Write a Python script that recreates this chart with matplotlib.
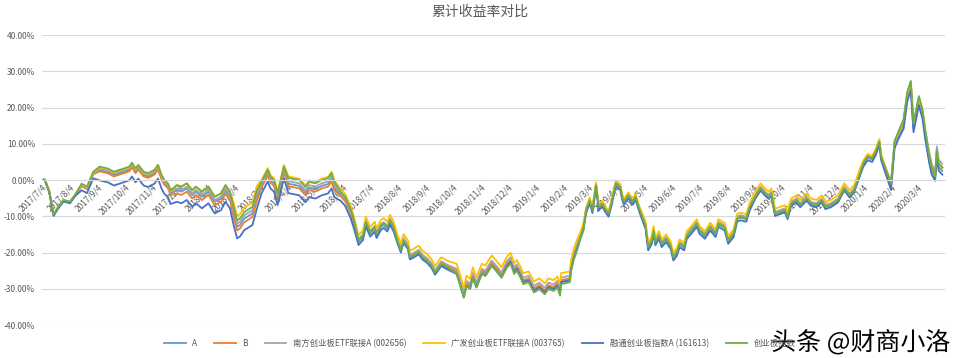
import matplotlib
matplotlib.use("Agg")
import matplotlib.pyplot as plt
import matplotlib.patheffects as pe
from matplotlib.ticker import FuncFormatter
import pandas as pd

plt.rcParams['font.family'] = ['Noto Sans CJK SC', 'DejaVu Sans']

# sample dates
dates = [
    "2017-07-04", "2017-07-07", "2017-07-12", "2017-07-17", "2017-07-21", "2017-07-28", "2017-08-04", "2017-08-10",
    "2017-08-17", "2017-08-23", "2017-08-30",
    "2017-09-06", "2017-09-15", "2017-09-22", "2017-09-28", "2017-10-09", "2017-10-12", "2017-10-16", "2017-10-19",
    "2017-10-25", "2017-10-30", "2017-11-06", "2017-11-10", "2017-11-14", "2017-11-17", "2017-11-21", "2017-11-24",
    "2017-12-01", "2017-12-06", "2017-12-12", "2017-12-18", "2017-12-22", "2017-12-29", "2018-01-05", "2018-01-12",
    "2018-01-19", "2018-01-24", "2018-01-29",
    "2018-02-02", "2018-02-06", "2018-02-09", "2018-02-14", "2018-02-23", "2018-02-28",
    "2018-03-05", "2018-03-12", "2018-03-15", "2018-03-19", "2018-03-23", "2018-03-27", "2018-03-30",
    "2018-04-04", "2018-04-10", "2018-04-16", "2018-04-23", "2018-04-27", "2018-05-04", "2018-05-11", "2018-05-18",
    "2018-05-22", "2018-05-25",
    "2018-06-01", "2018-06-06", "2018-06-12", "2018-06-15",
    "2018-06-21", "2018-06-26", "2018-06-29", "2018-07-04", "2018-07-09", "2018-07-11", "2018-07-16", "2018-07-19",
    "2018-07-23", "2018-07-26", "2018-07-30",
    "2018-08-03", "2018-08-07", "2018-08-10", "2018-08-15", "2018-08-17", "2018-08-21", "2018-08-27", "2018-08-31",
    "2018-09-05", "2018-09-10", "2018-09-14", "2018-09-18", "2018-09-21", "2018-09-28",
    "2018-10-08", "2018-10-11", "2018-10-16", "2018-10-19", "2018-10-23", "2018-10-26", "2018-10-30", "2018-11-05",
    "2018-11-09", "2018-11-16", "2018-11-21", "2018-11-27",
    "2018-12-03", "2018-12-07", "2018-12-11", "2018-12-14", "2018-12-18", "2018-12-21", "2018-12-27", "2019-01-02",
    "2019-01-08", "2019-01-14", "2019-01-18", "2019-01-24", "2019-01-28", "2019-01-31", "2019-02-01", "2019-02-11",
    "2019-02-12", "2019-02-15", "2019-02-19",
    "2019-02-22", "2019-02-26",
    "2019-03-01", "2019-03-05", "2019-03-08", "2019-03-12", "2019-03-15", "2019-03-19", "2019-03-22", "2019-03-26",
    "2019-03-29", "2019-04-03", "2019-04-08", "2019-04-10", "2019-04-12", "2019-04-17", "2019-04-22", "2019-04-25",
    "2019-04-29",
    "2019-05-06", "2019-05-09", "2019-05-13", "2019-05-15", "2019-05-17", "2019-05-21", "2019-05-24", "2019-05-29",
    "2019-06-03", "2019-06-06", "2019-06-10", "2019-06-13", "2019-06-18", "2019-06-21", "2019-06-26", "2019-07-02",
    "2019-07-05", "2019-07-11", "2019-07-17", "2019-07-23", "2019-07-26", "2019-08-02", "2019-08-06", "2019-08-12",
    "2019-08-16", "2019-08-20", "2019-08-26", "2019-08-30",
    "2019-09-05", "2019-09-11", "2019-09-16", "2019-09-20", "2019-09-23", "2019-09-27", "2019-10-08", "2019-10-11",
    "2019-10-15", "2019-10-21", "2019-10-25", "2019-11-01", "2019-11-06", "2019-11-12", "2019-11-18", "2019-11-22",
    "2019-11-28", "2019-12-06", "2019-12-13", "2019-12-19", "2019-12-24", "2019-12-30",
    "2020-01-03", "2020-01-08", "2020-01-13", "2020-01-17", "2020-01-21", "2020-01-23",
    "2020-02-03", "2020-02-07", "2020-02-11",
    "2020-02-17", "2020-02-21", "2020-02-25", "2020-02-28", "2020-03-05", "2020-03-09", "2020-03-12",
    "2020-03-16", "2020-03-19", "2020-03-23", "2020-03-25", "2020-03-27", "2020-03-31",
]

# cumulative returns in %
fund_a = [
    0, 0.2, -3.1, -9.6, -7.9, -5.6, -6.1, -4.1,
    -1.5, -2.3, 1.8,
    2.8, 2.3, 1.4, 1.9, 2.8, 3.9, 2.3, 3.3, 1.4, 1.0, 1.9, 3.3, 0.5, -0.9, -1.8, -3.7,
    -2.8, -3.2, -2.3, -4.2, -3.2, -4.6, -3.2, -6.0, -5.1, -2.8, -4.6,
    -9.2, -12.9, -12.4, -10.6, -9.2, -4.6,
    -1.5, 1.8, -0.1, -1.0, -4.7, -0.5, 2.7,
    -1.0, -1.3, -1.6, -3.5, -2.1, -2.5, -1.6, -1.1, 0.3, -2.1,
    -4.2, -5.6, -8.9, -11.2,
    -17.1, -15.7, -12.0, -14.8, -13.4, -15.2, -12.9, -12.4, -13.4, -11.5, -13.4,
    -16.9, -19.6, -16.9, -18.7, -21.5, -21.0, -20.1, -21.5, -22.4, -23.8, -25.7, -24.3, -23.3, -24.3,
    -25.4, -27.7, -31.9, -28.7, -29.5, -26.4, -29.1, -25.4, -25.9, -23.1, -24.5, -26.4,
    -23.3, -22.3, -25.1, -24.2, -26.1, -27.9, -27.4, -30.2, -29.3, -30.7, -29.3, -29.8, -28.8, -31.1, -27.9, -27.4,
    -24.7, -21.4, -18.6,
    -16.2, -13.4,
    -8.3, -5.6, -8.3, -1.4, -7.5, -6.5, -7.9, -9.3, -6.5, -0.9, -1.9, -4.6, -6.0, -4.2, -6.0, -4.6, -7.9,
    -12.7, -18.7, -16.9, -14.1, -17.3, -15.5, -17.8, -16.4, -18.3, -21.5, -20.1, -17.8, -18.7, -15.5, -14.1, -12.2,
    -14.1, -15.5, -13.2, -15.0, -12.2, -13.2, -16.9, -15.0, -10.7, -10.4, -10.8, -7.6,
    -4.7, -2.4, -3.8, -4.7, -3.8, -9.4, -8.4, -10.3, -6.6, -5.7, -7.0, -5.2, -6.6, -7.0, -5.7, -7.5,
    -7.0, -5.7, -2.4, -4.3, -2.9, 1.3,
    4.3, 6.2, 5.7, 7.6, 10.3, 6.2,
    -1.7, 9.8, 12.2,
    15.2, 22.6, 25.8, 14.2, 21.6, 17.9, 12.4,
    6.4, 2.7, 0.4, 7.3, 3.6, 2.5,
]

fund_b = [
    0, 0.1, -3.2, -9.7, -8.0, -5.7, -6.2, -4.2,
    -1.7, -2.5, 1.6,
    2.4, 1.9, 1.0, 1.5, 2.4, 3.5, 1.9, 2.9, 1.0, 0.6, 1.5, 2.9, 0.1, -1.3, -2.2, -4.1,
    -3.7, -4.1, -3.2, -5.1, -4.1, -5.5, -4.1, -6.9, -6.0, -3.7, -5.5,
    -10.2, -13.9, -13.4, -11.6, -10.2, -5.6,
    -2.1, 1.2, -0.7, -1.6, -5.3, -1.1, 2.1,
    -1.7, -2.0, -2.3, -4.2, -2.8, -3.2, -2.3, -1.8, -0.4, -2.8,
    -4.4, -5.8, -9.1, -11.4,
    -16.7, -15.3, -11.6, -14.4, -13.0, -14.8, -12.5, -12.0, -13.0, -11.1, -13.0,
    -16.4, -19.1, -16.4, -18.2, -21.0, -20.5, -19.6, -21.0, -21.9, -23.3, -25.2, -23.8, -22.8, -23.8,
    -25.0, -27.3, -31.5, -28.3, -29.1, -26.0, -28.7, -25.0, -25.5, -22.7, -24.1, -26.0,
    -23.0, -22.0, -24.8, -23.9, -25.8, -27.6, -27.1, -29.9, -29.0, -30.4, -29.0, -29.5, -28.5, -30.8, -27.6, -27.1,
    -24.4, -21.1, -18.3,
    -15.9, -13.1,
    -8.1, -5.4, -8.1, -1.2, -7.3, -6.3, -7.7, -9.1, -6.3, -0.7, -1.7, -4.4, -5.8, -4.0, -5.8, -4.4, -7.7,
    -12.2, -18.2, -16.4, -13.6, -16.8, -15.0, -17.3, -15.9, -17.8, -21.0, -19.6, -17.3, -18.2, -15.0, -13.6, -11.7,
    -13.6, -15.0, -12.7, -14.5, -11.7, -12.7, -16.4, -14.5, -10.2, -9.9, -10.3, -7.1,
    -4.3, -2.0, -3.4, -4.3, -3.4, -9.0, -8.0, -9.9, -6.2, -5.3, -6.6, -4.8, -6.2, -6.6, -5.3, -7.1,
    -6.6, -5.3, -2.0, -3.9, -2.5, 1.7,
    4.6, 6.5, 6.0, 7.9, 10.6, 6.5,
    -1.2, 10.3, 12.7,
    15.9, 23.3, 26.5, 14.9, 22.3, 18.6, 13.1,
    7.4, 3.7, 0.9, 8.3, 4.6, 3.5,
]

nanfang_etf = [
    0, 0.2, -3.0, -9.5, -7.8, -5.5, -6.0, -4.0,
    -1.4, -2.2, 1.9,
    3.2, 2.7, 1.8, 2.3, 3.2, 4.3, 2.7, 3.7, 1.8, 1.4, 2.3, 3.7, 0.9, -0.5, -1.4, -3.3,
    -2.3, -2.7, -1.8, -3.7, -2.7, -4.1, -2.7, -5.5, -4.6, -2.3, -4.1,
    -8.3, -12.0, -11.5, -9.7, -8.3, -3.7,
    -1.1, 2.2, 0.3, -0.6, -4.3, -0.1, 3.1,
    -0.3, -0.6, -0.9, -2.8, -1.4, -1.8, -0.9, -0.4, 1.0, -1.4,
    -3.6, -5.0, -8.3, -10.6,
    -16.3, -14.9, -11.2, -14.0, -12.6, -14.4, -12.1, -11.6, -12.6, -10.7, -12.6,
    -16.0, -18.7, -16.0, -17.8, -20.6, -20.1, -19.2, -20.6, -21.5, -22.9, -24.8, -23.4, -22.4, -23.4,
    -24.5, -26.8, -31.0, -27.8, -28.6, -25.5, -28.2, -24.5, -25.0, -22.2, -23.6, -25.5,
    -22.3, -21.3, -24.1, -23.2, -25.1, -26.9, -26.4, -29.2, -28.3, -29.7, -28.3, -28.8, -27.8, -30.1, -26.9, -26.4,
    -23.7, -20.4, -17.6,
    -15.5, -12.7,
    -8.0, -5.3, -8.0, -1.1, -7.2, -6.2, -7.6, -9.0, -6.2, -0.6, -1.6, -4.3, -5.7, -3.9, -5.7, -4.3, -7.6,
    -12.0, -18.0, -16.2, -13.4, -16.6, -14.8, -17.1, -15.7, -17.6, -20.8, -19.4, -17.1, -18.0, -14.8, -13.4, -11.5,
    -13.4, -14.8, -12.5, -14.3, -11.5, -12.5, -16.2, -14.3, -10.0, -9.7, -10.1, -6.9,
    -4.1, -1.8, -3.2, -4.1, -3.2, -8.8, -7.8, -9.7, -6.0, -5.1, -6.4, -4.6, -6.0, -6.4, -5.1, -6.9,
    -6.4, -5.1, -1.8, -3.7, -2.3, 1.9,
    4.9, 6.8, 6.3, 8.2, 10.9, 6.8,
    -0.6, 10.9, 13.3,
    16.7, 24.1, 27.3, 15.7, 23.1, 19.4, 13.9,
    8.4, 4.7, 1.9, 9.3, 5.6, 4.5,
]

guangfa_etf = [
    0, 0.2, -3.0, -9.5, -7.8, -5.5, -6.0, -4.0,
    -1.2, -2.0, 2.1,
    3.5, 3.0, 2.1, 2.6, 3.5, 4.6, 3.0, 4.0, 2.1, 1.7, 2.6, 4.0, 1.2, -0.2, -1.1, -3.0,
    -1.4, -1.8, -0.9, -2.8, -1.8, -3.2, -1.8, -4.6, -3.7, -1.4, -3.2,
    -6.2, -9.9, -9.4, -7.6, -6.2, -1.6,
    0.0, 3.3, 1.4, 0.5, -3.2, 1.0, 4.2,
    1.0, 0.7, 0.4, -1.5, -0.1, -0.5, 0.4, 0.9, 2.3, -0.1,
    -2.4, -3.8, -7.1, -9.4,
    -15.2, -13.8, -10.1, -12.9, -11.5, -13.3, -11.0, -10.5, -11.5, -9.6, -11.5,
    -14.9, -17.6, -14.9, -16.7, -19.5, -19.0, -18.1, -19.5, -20.4, -21.8, -23.7, -22.3, -21.3, -22.3,
    -23.1, -25.4, -29.6, -26.4, -27.2, -24.1, -26.8, -23.1, -23.6, -20.8, -22.2, -24.1,
    -21.1, -20.1, -22.9, -22.0, -23.9, -25.7, -25.2, -28.0, -27.1, -28.5, -27.1, -27.6, -26.6, -28.9, -25.7, -25.2,
    -22.5, -19.2, -16.4,
    -14.7, -11.9,
    -7.5, -4.8, -7.5, -0.6, -6.7, -5.7, -7.1, -8.5, -5.7, -0.1, -1.1, -3.8, -5.2, -3.4, -5.2, -3.8, -7.1,
    -11.3, -17.3, -15.5, -12.7, -15.9, -14.1, -16.4, -15.0, -16.9, -20.1, -18.7, -16.4, -17.3, -14.1, -12.7, -10.8,
    -12.7, -14.1, -11.8, -13.6, -10.8, -11.8, -15.5, -13.6, -9.3, -9.0, -9.4, -6.2,
    -3.2, -0.9, -2.3, -3.2, -2.3, -7.9, -6.9, -8.8, -5.1, -4.2, -5.5, -3.7, -5.1, -5.5, -4.2, -6.0,
    -5.5, -4.2, -0.9, -2.8, -1.4, 2.8,
    5.3, 7.2, 6.7, 8.6, 11.3, 7.2,
    -1.2, 10.3, 12.7,
    16.2, 23.6, 26.8, 15.2, 22.6, 18.9, 13.4,
    7.1, 3.4, 0.6, 8.0, 4.3, 3.2,
]

rongtong_index = [
    0, 0.0, -3.4, -9.9, -8.2, -5.9, -6.4, -4.4,
    -2.8, -3.6, 0.5,
    -0.1, -0.6, -1.5, -1.0, -0.1, 1.0, -0.6, 0.4, -1.5, -1.9, -1.0, 0.4, -2.4, -3.8, -4.7, -6.6,
    -6.0, -6.4, -5.5, -7.4, -6.4, -7.8, -6.4, -9.2, -8.3, -6.0, -7.8,
    -12.4, -16.1, -15.6, -13.8, -12.4, -7.8,
    -3.7, -0.4, -2.3, -3.2, -6.9, -2.7, 0.5,
    -3.6, -3.9, -4.2, -6.1, -4.7, -5.1, -4.2, -3.7, -2.3, -4.7,
    -5.7, -7.1, -10.4, -12.7,
    -17.9, -16.5, -12.8, -15.6, -14.2, -16.0, -13.7, -13.2, -14.2, -12.3, -14.2,
    -17.3, -20.0, -17.3, -19.1, -21.9, -21.4, -20.5, -21.9, -22.8, -24.2, -26.1, -24.7, -23.7, -24.7,
    -25.9, -28.2, -32.4, -29.2, -30.0, -26.9, -29.6, -25.9, -26.4, -23.6, -25.0, -26.9,
    -23.6, -22.6, -25.4, -24.5, -26.4, -28.2, -27.7, -30.5, -29.6, -31.0, -29.6, -30.1, -29.1, -31.4, -28.2, -27.7,
    -25.0, -21.7, -18.9,
    -16.5, -13.7,
    -9.1, -6.4, -9.1, -2.2, -8.3, -7.3, -8.7, -10.1, -7.3, -1.7, -2.7, -5.4, -6.8, -5.0, -6.8, -5.4, -8.7,
    -13.4, -19.4, -17.6, -14.8, -18.0, -16.2, -18.5, -17.1, -19.0, -22.2, -20.8, -18.5, -19.4, -16.2, -14.8, -12.9,
    -14.8, -16.2, -13.9, -15.7, -12.9, -13.9, -17.6, -15.7, -11.4, -11.1, -11.5, -8.3,
    -5.2, -2.9, -4.3, -5.2, -4.3, -9.9, -8.9, -10.8, -7.1, -6.2, -7.5, -5.7, -7.1, -7.5, -6.2, -8.0,
    -7.5, -6.2, -2.9, -4.8, -3.4, 0.8,
    3.6, 5.5, 5.0, 6.9, 9.6, 5.5,
    -2.7, 8.8, 11.2,
    14.2, 21.6, 24.8, 13.2, 20.6, 16.9, 11.4,
    5.4, 1.7, -0.2, 6.3, 2.6, 1.5,
]

chinext_index = [
    0, 0.2, -3.0, -9.5, -7.8, -5.5, -6.0, -4.0,
    -1.0, -1.8, 2.3,
    3.7, 3.2, 2.3, 2.8, 3.7, 4.8, 3.2, 4.2, 2.3, 1.9, 2.8, 4.2, 1.4, 0.0, -0.9, -2.8,
    -1.4, -1.8, -0.9, -2.8, -1.8, -3.2, -1.8, -4.6, -3.7, -1.4, -3.2,
    -7.4, -11.1, -10.6, -8.8, -7.4, -2.8,
    -0.5, 2.8, 0.9, 0.0, -3.7, 0.5, 3.7,
    0.6, 0.3, 0.0, -1.9, -0.5, -0.9, 0.0, 0.5, 1.9, -0.5,
    -3.2, -4.6, -7.9, -10.2,
    -16.7, -15.3, -11.6, -14.4, -13.0, -14.8, -12.5, -12.0, -13.0, -11.1, -13.0,
    -16.7, -19.4, -16.7, -18.5, -21.3, -20.8, -19.9, -21.3, -22.2, -23.6, -25.5, -24.1, -23.1, -24.1,
    -25.9, -28.2, -32.4, -29.2, -30.0, -26.9, -29.6, -25.9, -26.4, -23.6, -25.0, -26.9,
    -24.1, -23.1, -25.9, -25.0, -26.9, -28.7, -28.2, -31.0, -30.1, -31.5, -30.1, -30.6, -29.6, -31.9, -28.7, -28.2,
    -25.5, -22.2, -19.4,
    -16.7, -13.9,
    -8.3, -5.6, -8.3, -1.4, -7.5, -6.5, -7.9, -9.3, -6.5, -0.9, -1.9, -4.6, -6.0, -4.2, -6.0, -4.6, -7.9,
    -12.5, -18.5, -16.7, -13.9, -17.1, -15.3, -17.6, -16.2, -18.1, -21.3, -19.9, -17.6, -18.5, -15.3, -13.9, -12.0,
    -13.9, -15.3, -13.0, -14.8, -12.0, -13.0, -16.7, -14.8, -10.5, -10.2, -10.6, -7.4,
    -4.6, -2.3, -3.7, -4.6, -3.7, -9.3, -8.3, -10.2, -6.5, -5.6, -6.9, -5.1, -6.5, -6.9, -5.6, -7.4,
    -6.9, -5.6, -2.3, -4.2, -2.8, 1.4,
    4.6, 6.5, 6.0, 7.9, 10.6, 6.5,
    -0.9, 10.6, 13.0,
    16.7, 24.1, 27.3, 15.7, 23.1, 19.4, 13.9,
    7.4, 3.7, 0.9, 8.3, 4.6, 3.5,
]

series_names = ["A", "B", "南方创业板ETF联接A (002656)", "广发创业板ETF联接A (003765)",
                "融通创业板指数A (161613)", "创业板指数"]
series_colors = ["#5B9BD5", "#ED7D31", "#A5A5A5", "#FFC000", "#4472C4", "#70AD47"]
series_values = [fund_a, fund_b, nanfang_etf, guangfa_etf, rongtong_index, chinext_index]

tick_dates = pd.date_range("2017-07-04", "2020-03-04", freq=pd.DateOffset(months=1))
tick_labels = [f"{d.year}/{d.month}/{d.day}" for d in tick_dates]

x = pd.to_datetime(dates)

fig = plt.figure(figsize=(9.6, 3.58), dpi=100)
ax = fig.add_axes([0.04375, 0.092, 0.9406, 0.810])

for name, color, vals in zip(series_names, series_colors, series_values):
    ax.plot(x, vals, color=color, lw=1.3, label=name)

# axis line sits at 0, like the Excel chart (set before the ticks, it resets them)
for s in ["top", "right", "left"]:
    ax.spines[s].set_visible(False)
ax.spines["bottom"].set_position(("data", 0))
ax.spines["bottom"].set_color("#D9D9D9")

ax.set_ylim(-40, 40)
ax.set_yticks(range(-40, 41, 10))
ax.yaxis.set_major_formatter(FuncFormatter(lambda v, p: f"{v:.2f}%"))
ax.set_xlim(pd.Timestamp("2017-07-04"), pd.Timestamp("2020-04-03"))
ax.set_xticks(tick_dates)
ax.set_xticklabels(tick_labels)

ax.grid(axis="y", color="#D9D9D9", lw=0.8)
ax.set_axisbelow(True)
ax.tick_params(axis="both", length=0, colors="#595959")
ax.tick_params(axis="y", pad=5, labelsize=6)
ax.tick_params(axis="x", pad=2, labelsize=6, labelrotation=45)
for lbl in ax.get_xticklabels():
    lbl.set_ha("right")
    lbl.set_rotation_mode("anchor")

fig.text(0.5, 1 - 12 / 358, "累计收益率对比", ha="center", va="center", fontsize=10, color="#595959")

fig.legend(loc="center", bbox_to_anchor=(0.5, 0.04), ncol=6, frameon=False, fontsize=6,
           handlelength=2.6, columnspacing=2.0, labelcolor="#595959")

fig.text(0.99, 0.022, "头条 @财商小洛", ha="right", va="baseline", fontsize=18, color="black",
         path_effects=[pe.withStroke(linewidth=3, foreground="white")])

fig.savefig("out.png", dpi=100)
